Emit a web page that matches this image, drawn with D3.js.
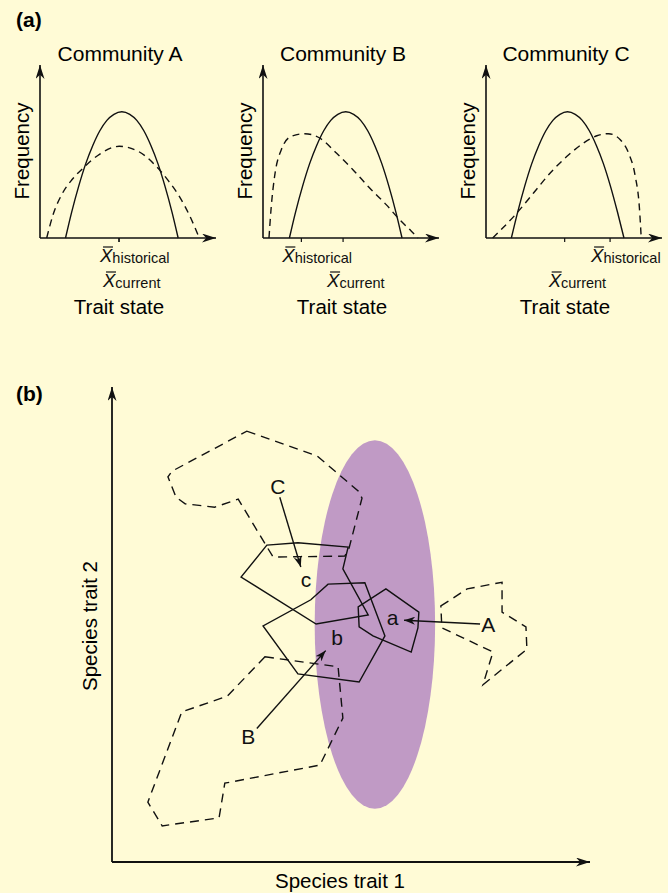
<!DOCTYPE html>
<html>
<head>
<meta charset="utf-8">
<script src="https://cdn.jsdelivr.net/npm/d3@7/dist/d3.min.js"></script>
<style>
  body { margin: 0; background: #fffbd6; }
  svg { display: block; font-family: Arial, "Liberation Sans", sans-serif; }
</style>
</head>
<body>
<svg id="chart"></svg>
<script>
// ---- panel (a): trait distributions, x = trait state (0-100), y = frequency (0-100)
const communities = ['Community A', 'Community B', 'Community C'];

const historicalA = [[3.8,0],[7.6,14],[12.3,25],[18,33.5],[24.6,40.5],[34,48.5],[45,53],[56,50],[66,41.5],[73,33],[79.5,23.5],[85.2,12.5],[90.5,0]];
const historicalB = [[3.4,0],[4.7,18.3],[6.6,35.7],[10.4,51],[16.1,58.8],[23.7,60.3],[32.2,57.8],[41.7,49.1],[51.1,39.5],[60.6,28.9],[70,19.3],[76.7,11.6],[84.3,3.9],[88,0]];
const historicalC = [[3.8,0],[7.7,3.9],[16.7,13.5],[27,26],[36.5,37.6],[46,47.2],[55.5,54.9],[63,59.1],[69.7,60.3],[76.3,56.8],[81,49.1],[84.8,35.7],[87.1,18.3],[88.2,0]];

const currentA = [[14.5,0],[18,15],[22,30],[26,43],[30,53.5],[34,62],[38,68],[42,71.5],[46.5,73],[51,71.5],[55,68],[59,62],[63,53.5],[67,43],[71,30],[75,15],[78.5,0]];
const currentB = [[15,0],[18.5,15],[22.5,30],[26.5,43],[30.5,53.5],[34.5,62],[38.5,68],[42.5,71.5],[47,73],[51.5,71.5],[55.5,68],[59.5,62],[63.5,53.5],[67.5,43],[71.5,30],[75.5,15],[79,0]];
const currentC = [[14.4,0],[18,15],[22,30],[26,43],[30,53.5],[34,62],[38,68],[42,71.5],[46.3,73],[50.7,71.5],[54.7,68],[58.7,62],[62.7,53.5],[66.7,43],[70.7,30],[74.7,15],[78.4,0]];

const historicalCurves = [historicalA, historicalB, historicalC];
const currentCurves = [currentA, currentB, currentC];
const meanHistorical = [44.9, 21.8, 70.5];
const meanCurrent = [44.9, 45.5, 44.7];

// ---- panel (b): species positions in trait space (0-100 on both traits)
const regionCenter = [55, 50];
const regionRadii = [12.6, 38.8];

const rangeHistA = [[68.8,53.9],[74.3,57.5],[81.6,58.9],[81.6,52.6],[86.6,49.5],[86.8,44.8],[77.6,37.3],[79.7,44.2],[69,49.3]];
const rangeHistB = [[32,43.2],[47.3,41.1],[48.3,30.3],[43.5,20.4],[23.6,16.6],[22.4,9.3],[10.5,7.6],[7.5,12.6],[14.6,31.6],[24.1,34.9]];
const rangeHistC = [[28.2,90.7],[42.9,85.5],[51.5,78.1],[52.3,76.6],[49.6,66.1],[48.7,64.4],[33.7,64.2],[26.4,76.4],[21.5,74.7],[15.3,75.4],[13.4,76.8],[11.7,81.1],[12.6,82.3]];

const rangeNowA = [[57.3,57.5],[64.2,52.6],[64,49.3],[62.6,44.2],[54.6,47.6],[51.7,49.5],[51.5,53.7]];
const rangeNowB = [[45.2,58.5],[52.9,58.8],[57.1,47.6],[51.7,37.9],[38.9,39.6],[31.6,49.7],[41.6,55.2]];
const rangeNowC = [[32.4,66.7],[38.9,67.2],[49.4,66.3],[48.3,61.7],[53.6,52],[42.7,50.1],[27,60]];

const shiftArrows = [
  {from: [77, 50.1], to: [61.1, 50.9]},
  {from: [30.3, 28.1], to: [44.7, 44.5]},
  {from: [35.1, 76.8], to: [39.5, 62.1]}
];
const speciesLabels = [
  {text: 'A', pos: [78.7, 48.4]}, {text: 'a', pos: [58.7, 49.9]},
  {text: 'B', pos: [28.5, 24.8]}, {text: 'b', pos: [47.1, 45.7]},
  {text: 'C', pos: [34.7, 77.5]}, {text: 'c', pos: [40.6, 57.9]}
];

const ink = '#111';
const svg = d3.select('#chart').attr('width', 668).attr('height', 893);
svg.append('rect').attr('width', 668).attr('height', 893).attr('fill', '#fffbd6');

// arrow heads
const defs = svg.append('defs');
function addArrow(id, len, half) {
  defs.append('marker')
      .attr('id', id)
      .attr('viewBox', `${-len} ${-half} ${len} ${half * 2}`)
      .attr('refX', 0).attr('refY', 0)
      .attr('markerWidth', len).attr('markerHeight', half * 2)
      .attr('markerUnits', 'userSpaceOnUse')
      .attr('orient', 'auto')
    .append('path')
      .attr('d', `M0,0L${-len},${-half}L${-len * 0.7},0L${-len},${half}Z`)
      .attr('fill', ink);
}
addArrow('axisHead', 14, 4.5);
addArrow('pointerHead', 11, 4);

svg.append('text').attr('x', 16).attr('y', 27)
    .attr('font-size', 21).attr('font-weight', 'bold').text('(a)');
svg.append('text').attr('x', 16).attr('y', 401)
    .attr('font-size', 21).attr('font-weight', 'bold').text('(b)');

// X-bar label with a subscript
function meanLabel(g, x, y, sub) {
  const t = g.append('text').attr('x', x).attr('y', y).attr('fill', ink);
  t.append('tspan').attr('font-size', 18.5).attr('font-style', 'italic').text('X');
  t.append('tspan').attr('font-size', 14.5).attr('dy', 1).text(sub);
  g.append('line')
      .attr('x1', x + 3).attr('x2', x + 13)
      .attr('y1', y - 15).attr('y2', y - 15)
      .attr('stroke', ink).attr('stroke-width', 1.2);
}

communities.forEach((name, i) => {
  const x0 = 40 + i * 223;
  const x = d3.scaleLinear().domain([0, 100]).range([x0, x0 + 176]);
  const y = d3.scaleLinear().domain([0, 100]).range([238, 65]);
  const g = svg.append('g');

  g.append('text')
      .attr('x', x0 + 80).attr('y', 61)
      .attr('text-anchor', 'middle').attr('font-size', 21)
      .text(name);

  g.append('text')
      .attr('transform', `translate(${x0 - 11},151) rotate(-90)`)
      .attr('text-anchor', 'middle').attr('font-size', 20.5)
      .text('Frequency');

  g.append('text')
      .attr('x', x0 + 79).attr('y', 314)
      .attr('text-anchor', 'middle').attr('font-size', 20.5)
      .text('Trait state');

  // axes
  g.append('line')
      .attr('x1', x(0)).attr('x2', x(0)).attr('y1', y(0)).attr('y2', y(100))
      .attr('stroke', ink).attr('stroke-width', 1.6)
      .attr('marker-end', 'url(#axisHead)');
  g.append('line')
      .attr('x1', x(0)).attr('x2', x(100)).attr('y1', y(0)).attr('y2', y(0))
      .attr('stroke', ink).attr('stroke-width', 1.6)
      .attr('marker-end', 'url(#axisHead)');

  const line = d3.line()
      .x(d => x(d[0]))
      .y(d => y(d[1]))
      .curve(d3.curveMonotoneX);

  g.append('path')
      .attr('d', line(historicalCurves[i]))
      .attr('fill', 'none').attr('stroke', ink).attr('stroke-width', 1.4)
      .attr('stroke-dasharray', '7,5');
  g.append('path')
      .attr('d', line(currentCurves[i]))
      .attr('fill', 'none').attr('stroke', ink).attr('stroke-width', 1.4);

  // mean ticks and labels
  [meanHistorical[i], meanCurrent[i]].forEach(m => {
    g.append('line')
        .attr('x1', x(m)).attr('x2', x(m)).attr('y1', y(0)).attr('y2', y(0) + 4)
        .attr('stroke', ink).attr('stroke-width', 1.2);
  });
  meanLabel(g, x(meanHistorical[i]) - 19, 262, 'historical');
  meanLabel(g, x(meanCurrent[i]) - 16, 287, 'current');
});

// ---- panel (b)
const bx = d3.scaleLinear().domain([0, 100]).range([112, 590]);
const by = d3.scaleLinear().domain([0, 100]).range([862, 387]);
const gb = svg.append('g');

gb.append('ellipse')
    .attr('cx', bx(regionCenter[0])).attr('cy', by(regionCenter[1]))
    .attr('rx', bx(regionRadii[0]) - bx(0))
    .attr('ry', by(0) - by(regionRadii[1]))
    .attr('fill', '#c09ac5');

const poly = d3.line().x(d => bx(d[0])).y(d => by(d[1])).curve(d3.curveLinearClosed);

[rangeHistA, rangeHistB, rangeHistC].forEach(r => {
  gb.append('path').attr('d', poly(r))
      .attr('fill', 'none').attr('stroke', ink).attr('stroke-width', 1.4)
      .attr('stroke-dasharray', '9,6');
});
[rangeNowA, rangeNowB, rangeNowC].forEach(r => {
  gb.append('path').attr('d', poly(r))
      .attr('fill', 'none').attr('stroke', ink).attr('stroke-width', 1.4);
});

shiftArrows.forEach(a => {
  gb.append('line')
      .attr('x1', bx(a.from[0])).attr('y1', by(a.from[1]))
      .attr('x2', bx(a.to[0])).attr('y2', by(a.to[1]))
      .attr('stroke', ink).attr('stroke-width', 1.4)
      .attr('marker-end', 'url(#pointerHead)');
});

gb.selectAll('.species-label')
  .data(speciesLabels)
  .join('text')
    .attr('class', 'species-label')
    .attr('x', d => bx(d.pos[0])).attr('y', d => by(d.pos[1]))
    .attr('text-anchor', 'middle').attr('font-size', 21).attr('fill', ink)
    .text(d => d.text);

// axes
gb.append('line')
    .attr('x1', bx(0)).attr('x2', bx(0)).attr('y1', by(0)).attr('y2', by(100))
    .attr('stroke', ink).attr('stroke-width', 1.8)
    .attr('marker-end', 'url(#axisHead)');
gb.append('line')
    .attr('x1', bx(0)).attr('x2', bx(100)).attr('y1', by(0)).attr('y2', by(0))
    .attr('stroke', ink).attr('stroke-width', 1.8)
    .attr('marker-end', 'url(#axisHead)');

gb.append('text')
    .attr('x', 340).attr('y', 888)
    .attr('text-anchor', 'middle').attr('font-size', 20.5)
    .text('Species trait 1');
gb.append('text')
    .attr('transform', 'translate(97,626) rotate(-90)')
    .attr('text-anchor', 'middle').attr('font-size', 20.5)
    .text('Species trait 2');
</script>
</body>
</html>
